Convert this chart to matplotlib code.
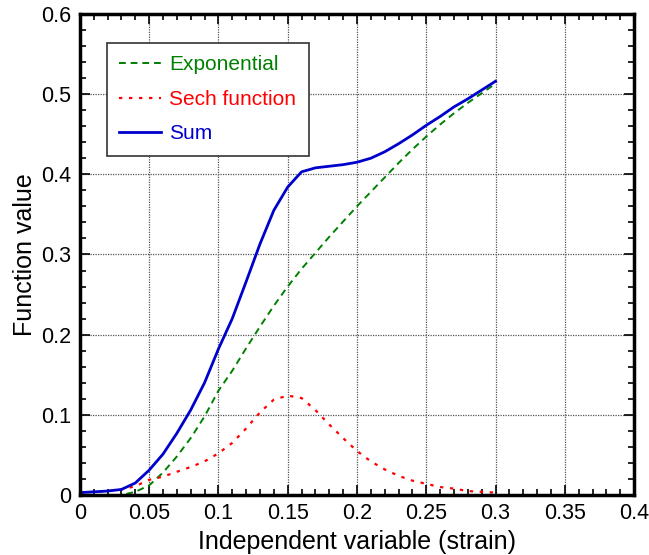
import numpy as np
import matplotlib.pyplot as plt
from matplotlib.ticker import MultipleLocator

plt.rcParams['font.family'] = ['Liberation Sans', 'DejaVu Sans']

# strain values, step 0.01
strain = [0.00, 0.01, 0.02, 0.03, 0.04, 0.05, 0.06, 0.07, 0.08, 0.09,
          0.10, 0.11, 0.12, 0.13, 0.14, 0.15, 0.16, 0.17, 0.18, 0.19,
          0.20, 0.21, 0.22, 0.23, 0.24, 0.25, 0.26, 0.27, 0.28, 0.29, 0.30]

exponential = [0.0, 0.0, 0.0, 0.0, 0.004, 0.012, 0.028, 0.048, 0.071, 0.098,
               0.130, 0.155, 0.183, 0.210, 0.236, 0.260, 0.282, 0.302, 0.322, 0.341,
               0.360, 0.378, 0.396, 0.414, 0.431, 0.447, 0.462, 0.476, 0.489, 0.501, 0.513]

sech_fn = [0.003, 0.004, 0.005, 0.007, 0.011, 0.019, 0.023, 0.029, 0.035, 0.042,
           0.052, 0.065, 0.083, 0.103, 0.119, 0.124, 0.121, 0.106, 0.088, 0.071,
           0.055, 0.042, 0.032, 0.024, 0.018, 0.014, 0.010, 0.008, 0.005, 0.004, 0.003]

total = np.array(exponential) + np.array(sech_fn)

fig = plt.figure(figsize=(6.49, 5.55), dpi=100)
ax = fig.add_axes([0.123, 0.108, 0.854, 0.867])

ax.plot(strain, exponential, color='#008000', linestyle=(0, (3.5, 2.5)), lw=1.4, label='Exponential')
ax.plot(strain, sech_fn, color='#ff0000', linestyle=(0, (1.5, 3)), lw=1.6, label='Sech function')
ax.plot(strain, total, color='#0000cd', lw=2.0, label='Sum')

ax.set_xlim(0, 0.4)
ax.set_ylim(0, 0.6)
ax.xaxis.set_minor_locator(MultipleLocator(0.01))
ax.yaxis.set_minor_locator(MultipleLocator(0.02))
ax.set_xticks(np.arange(0, 0.41, 0.05))
ax.set_xticklabels(['0', '0.05', '0.1', '0.15', '0.2', '0.25', '0.3', '0.35', '0.4'])
ax.set_yticks(np.arange(0, 0.61, 0.1))
ax.set_yticklabels(['0', '0.1', '0.2', '0.3', '0.4', '0.5', '0.6'])

ax.grid(True, which='major', color='#555555', linestyle=(0, (1, 1)), lw=0.9)
ax.tick_params(which='both', direction='in', top=True, right=True, labelsize=15.5, width=1.2)
ax.tick_params(which='major', length=7, pad=6)
ax.tick_params(which='minor', length=4)
for s in ax.spines.values():
    s.set_linewidth(2.5)

ax.set_xlabel('Independent variable (strain)', fontsize=18, labelpad=4)
ax.set_ylabel('Function value', fontsize=18, labelpad=3)

leg = ax.legend(loc='upper left', bbox_to_anchor=(0.049, 0.94), borderaxespad=0,
                fontsize=15, fancybox=False, framealpha=1, edgecolor='#333333',
                handlelength=2.0, borderpad=0.6, labelspacing=0.75, handletextpad=0.4)
leg.get_frame().set_linewidth(1.2)
for txt, line in zip(leg.get_texts(), leg.get_lines()):
    txt.set_color(line.get_color())

fig.savefig('out.png', dpi=100)
